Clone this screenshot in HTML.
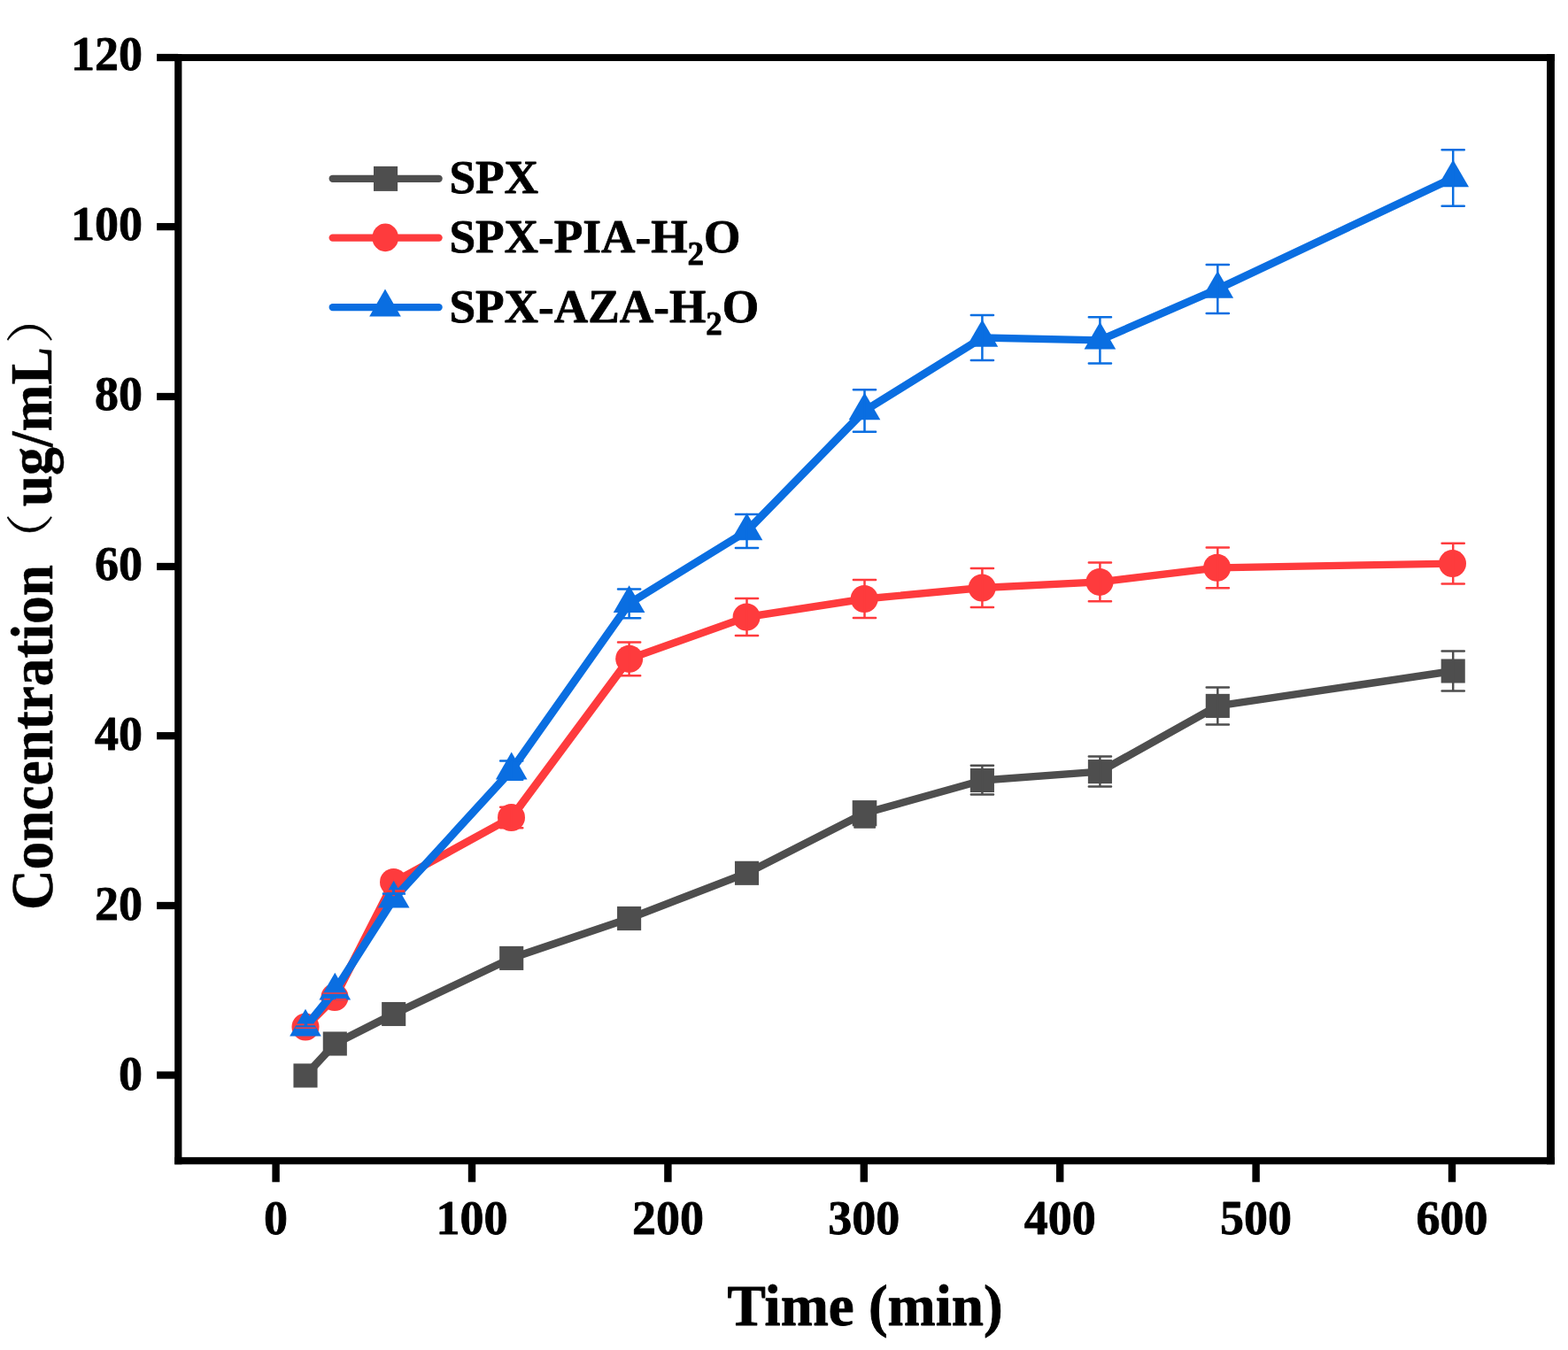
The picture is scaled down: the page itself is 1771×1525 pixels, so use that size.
<!DOCTYPE html>
<html lang="en"><head><meta charset="utf-8"><title>Concentration vs. Time</title>
<style>
html,body{margin:0;padding:0;background:#fff;}
body{width:1771px;height:1525px;}
svg{display:block;}
text{font-family:"Liberation Serif","Noto Serif CJK SC",serif;font-weight:bold;fill:#000;stroke:#000;stroke-width:0.8px;stroke-linejoin:round;}
.tk{font-size:54px;}
.ti{font-size:65px;stroke-width:0.9px;}
.yt{stroke-width:0.5px;}
.lg{font-size:53.25px;}
.sub{font-size:37px;}
.cjk{font-family:"Liberation Serif","Noto Serif CJK SC",serif;font-weight:normal;stroke-width:0.3px;}
</style></head><body>
<svg width="1771" height="1525" viewBox="0 0 1771 1525">
<rect width="1771" height="1525" fill="#fff"/>
<g id="series">
<g stroke="#4e4e4e" stroke-linecap="round" fill="none"><line x1="345" y1="1215" x2="378.3" y2="1179" stroke-width="8.96"/><line x1="378.3" y1="1179" x2="444.7" y2="1145.5" stroke-width="8.71"/><line x1="444.7" y1="1145.5" x2="577.7" y2="1082.4" stroke-width="8.69"/><line x1="577.7" y1="1082.4" x2="710.6" y2="1037.5" stroke-width="8.59"/><line x1="710.6" y1="1037.5" x2="843.5" y2="986.3" stroke-width="8.62"/><line x1="843.5" y1="986.3" x2="976.5" y2="918.7" stroke-width="8.71"/><line x1="976.5" y1="918.7" x2="1109.4" y2="881.5" stroke-width="8.54"/><line x1="1109.4" y1="881.5" x2="1242.4" y2="871.6" stroke-width="8.37"/><line x1="1242.4" y1="871.6" x2="1375.3" y2="797.4" stroke-width="8.74"/><line x1="1375.3" y1="797.4" x2="1641.2" y2="758" stroke-width="8.43"/></g>
<rect x="331.45" y="1201.45" width="27.1" height="27.1" fill="#4e4e4e"/><rect x="364.75" y="1165.45" width="27.1" height="27.1" fill="#4e4e4e"/><rect x="431.15" y="1131.95" width="27.1" height="27.1" fill="#4e4e4e"/><rect x="564.15" y="1068.85" width="27.1" height="27.1" fill="#4e4e4e"/><rect x="697.05" y="1023.95" width="27.1" height="27.1" fill="#4e4e4e"/><rect x="829.95" y="972.75" width="27.1" height="27.1" fill="#4e4e4e"/><rect x="1095.85" y="867.95" width="27.1" height="27.1" fill="#4e4e4e"/><rect x="1228.85" y="858.05" width="27.1" height="27.1" fill="#4e4e4e"/><rect x="1361.75" y="783.85" width="27.1" height="27.1" fill="#4e4e4e"/><rect x="1627.65" y="744.45" width="27.1" height="27.1" fill="#4e4e4e"/>
<rect x="962.7" y="904.1" width="27.6" height="29.2" fill="#4e4e4e"/><rect x="964.2" y="933" width="24.9" height="2.8" rx="0.8" fill="#4e4e4e"/>
<g stroke="#fe3b3d" stroke-linecap="round" fill="none"><line x1="345" y1="1160" x2="378.3" y2="1126.5" stroke-width="8.94"/><line x1="378.3" y1="1126.5" x2="444.7" y2="996.5" stroke-width="9.1"/><line x1="444.7" y1="996.5" x2="577.7" y2="923.5" stroke-width="8.73"/><line x1="577.7" y1="923.5" x2="710.6" y2="744.3" stroke-width="9.02"/><line x1="710.6" y1="744.3" x2="843.5" y2="697" stroke-width="8.6"/><line x1="843.5" y1="697" x2="976.5" y2="676.5" stroke-width="8.44"/><line x1="976.5" y1="676.5" x2="1109.4" y2="664" stroke-width="8.38"/><line x1="1109.4" y1="664" x2="1242.4" y2="657.4" stroke-width="8.34"/><line x1="1242.4" y1="657.4" x2="1375.3" y2="641.3" stroke-width="8.41"/><line x1="1375.3" y1="641.3" x2="1641.2" y2="636.6" stroke-width="8.32"/></g>
<circle cx="345" cy="1160" r="15.5" fill="#fe3b3d"/><circle cx="378" cy="1126.5" r="15.5" fill="#fe3b3d"/><circle cx="444.5" cy="996.5" r="15.5" fill="#fe3b3d"/><circle cx="577.5" cy="923.5" r="15.5" fill="#fe3b3d"/><circle cx="710.7" cy="744.3" r="15.5" fill="#fe3b3d"/><circle cx="843.1" cy="697" r="15.5" fill="#fe3b3d"/><circle cx="976.2" cy="676.5" r="15.5" fill="#fe3b3d"/><circle cx="1109.2" cy="664" r="15.5" fill="#fe3b3d"/><circle cx="1242" cy="657.4" r="15.5" fill="#fe3b3d"/><circle cx="1374.6" cy="641.3" r="15.5" fill="#fe3b3d"/><circle cx="1640.5" cy="636.6" r="15.5" fill="#fe3b3d"/>
<g stroke="#0a6ee1" stroke-linecap="round" fill="none"><line x1="345" y1="1160.3" x2="378.3" y2="1119.3" stroke-width="9"/><line x1="378.3" y1="1119.3" x2="444.7" y2="1015.3" stroke-width="9.06"/><line x1="444.7" y1="1015.3" x2="577.7" y2="870.1" stroke-width="8.96"/><line x1="577.7" y1="870.1" x2="710.6" y2="681.8" stroke-width="9.04"/><line x1="710.6" y1="681.8" x2="843.5" y2="600" stroke-width="8.77"/><line x1="843.5" y1="600" x2="976.5" y2="464" stroke-width="8.94"/><line x1="976.5" y1="464" x2="1109.4" y2="381.5" stroke-width="8.77"/><line x1="1109.4" y1="381.5" x2="1242.4" y2="384.3" stroke-width="8.32"/><line x1="1242.4" y1="384.3" x2="1375.3" y2="326.5" stroke-width="8.66"/><line x1="1375.3" y1="326.5" x2="1641.2" y2="201" stroke-width="8.68"/></g>
<polygon points="345,1139.7 362.84,1170.6 327.16,1170.6" fill="#0a6ee1"/><polygon points="378.3,1098.7 396.14,1129.6 360.46,1129.6" fill="#0a6ee1"/><polygon points="444.7,994.7 462.54,1025.6 426.86,1025.6" fill="#0a6ee1"/><polygon points="577.7,849.5 595.54,880.4 559.86,880.4" fill="#0a6ee1"/><polygon points="710.6,661.2 728.44,692.1 692.76,692.1" fill="#0a6ee1"/><polygon points="843.5,579.4 861.34,610.3 825.66,610.3" fill="#0a6ee1"/><polygon points="976.5,443.4 994.34,474.3 958.66,474.3" fill="#0a6ee1"/><polygon points="1109.4,360.9 1127.24,391.8 1091.56,391.8" fill="#0a6ee1"/><polygon points="1242.4,363.7 1260.24,394.6 1224.56,394.6" fill="#0a6ee1"/><polygon points="1375.3,305.9 1393.14,336.8 1357.46,336.8" fill="#0a6ee1"/><polygon points="1641.2,180.4 1659.04,211.3 1623.36,211.3" fill="#0a6ee1"/>
<path d="M1109.4 864.7V897.5M1096.8 864.7H1122M1096.8 897.5H1122M1242.4 854.5V888.4M1229.8 854.5H1255M1229.8 888.4H1255M1375.3 776.6V818.6M1362.7 776.6H1387.9M1362.7 818.6H1387.9M1641.2 735.5V780.4M1628.6 735.5H1653.8M1628.6 780.4H1653.8" fill="none" stroke="#4e4e4e" stroke-width="2.5" stroke-linecap="round"/>
<path d="M577.7 911.65V935.35M565.1 911.65H590.3M565.1 935.35H590.3M710.6 725.4V763.2M698 725.4H723.2M698 763.2H723.2M843.5 676V718M830.9 676H856.1M830.9 718H856.1M976.5 654.9V698.1M963.9 654.9H989.1M963.9 698.1H989.1M1109.4 642.1V685.9M1096.8 642.1H1122M1096.8 685.9H1122M1242.4 635.5V679.3M1229.8 635.5H1255M1229.8 679.3H1255M1375.3 618.4V664.2M1362.7 618.4H1387.9M1362.7 664.2H1387.9M1641.2 613.65V659.55M1628.6 613.65H1653.8M1628.6 659.55H1653.8" fill="none" stroke="#fe3b3d" stroke-width="2.5" stroke-linecap="round"/>
<path d="M333.6 1157.4H343.6M347.2 1157.4H356.7M333.6 1161.3H356.7M365.1 1122H391.3M365.6 1128.8H373M379.2 1128.8H391.3" fill="none" stroke="#fe3b3d" stroke-width="1.6"/>
<path d="M432.9 1006.7H442.8M446 1006.7H457.3" fill="none" stroke="#fe3b3d" stroke-width="2.8"/>
<rect x="376.6" y="1129.2" width="2.6" height="1.6" fill="#fe3b3d"/><rect x="443.3" y="1010.9" width="2.6" height="1.3" fill="#fe3b3d"/>
<path d="M577.7 859.4V880.8M565.1 859.4H590.3M565.1 880.8H590.3M710.6 665.45V698.15M698 665.45H723.2M698 698.15H723.2M843.5 581.05V618.95M830.9 581.05H856.1M830.9 618.95H856.1M976.5 440.3V487.7M963.9 440.3H989.1M963.9 487.7H989.1M1109.4 356.1V406.9M1096.8 356.1H1122M1096.8 406.9H1122M1242.4 358.2V410.4M1229.8 358.2H1255M1229.8 410.4H1255M1375.3 299.1V353.9M1362.7 299.1H1387.9M1362.7 353.9H1387.9M1641.2 169.25V232.75M1628.6 169.25H1653.8M1628.6 232.75H1653.8" fill="none" stroke="#0a6ee1" stroke-width="2.5" stroke-linecap="round"/>
<path d="M431.8 1009.6H458" fill="none" stroke="#0a6ee1" stroke-width="2.4"/>
</g>
<g id="axes" fill="#000">
<rect x="197.2" y="61.1" width="1558.7" height="7.9"/>
<rect x="197.2" y="1307.2" width="1558.7" height="8.1"/>
<rect x="197.2" y="61.1" width="8.2" height="1254.2"/>
<rect x="1747" y="61.1" width="8.9" height="1254.2"/>
<rect x="307.4" y="1311" width="8.4" height="24.3"/>
<rect x="528.8" y="1311" width="8.4" height="24.3"/>
<rect x="750.2" y="1311" width="8.4" height="24.3"/>
<rect x="971.6" y="1311" width="8.4" height="24.3"/>
<rect x="1193" y="1311" width="8.4" height="24.3"/>
<rect x="1414.4" y="1311" width="8.4" height="24.3"/>
<rect x="1635.8" y="1311" width="8.4" height="24.3"/>
<rect x="177.1" y="1210.35" width="24" height="8.3"/>
<rect x="177.1" y="1018.85" width="24" height="8.3"/>
<rect x="177.1" y="827.05" width="24" height="8.3"/>
<rect x="177.1" y="635.85" width="24" height="8.3"/>
<rect x="177.1" y="443.85" width="24" height="8.3"/>
<rect x="177.1" y="251.95" width="24" height="8.3"/>
<rect x="177.1" y="60.85" width="24" height="8.3"/>
</g>
<g id="ticklabels" class="tk">
<text x="311.6" y="1394.0" text-anchor="middle">0</text>
<text x="533" y="1394.0" text-anchor="middle">100</text>
<text x="754.4" y="1394.0" text-anchor="middle">200</text>
<text x="975.8" y="1394.0" text-anchor="middle">300</text>
<text x="1197.2" y="1394.0" text-anchor="middle">400</text>
<text x="1418.6" y="1394.0" text-anchor="middle">500</text>
<text x="1640" y="1394.0" text-anchor="middle">600</text>
<text x="160.9" y="1230.5" text-anchor="end">0</text>
<text x="160.9" y="1038.6" text-anchor="end">20</text>
<text x="160.9" y="846.7" text-anchor="end">40</text>
<text x="160.9" y="654.8" text-anchor="end">60</text>
<text x="160.9" y="462.9" text-anchor="end">80</text>
<text x="160.9" y="271" text-anchor="end">100</text>
<text x="160.9" y="79.1" text-anchor="end">120</text>
</g>
<text class="ti" x="977.0" y="1496.6" text-anchor="middle">Time (min)</text>
<text id="ytitle" class="yt" transform="translate(59 1028.1) rotate(-90)"><tspan x="0" font-size="67" textLength="390" lengthAdjust="spacingAndGlyphs">Concentration</tspan><tspan class="cjk" x="387.7" dy="-4.8" font-size="54" textLength="60.75" lengthAdjust="spacingAndGlyphs">（</tspan><tspan x="455.9" dy="3.6" font-size="67.5" textLength="180" lengthAdjust="spacingAndGlyphs">ug/mL</tspan><tspan class="cjk" x="639.8" dy="-3.6" font-size="54" textLength="60.75" lengthAdjust="spacingAndGlyphs">）</tspan></text>
<g id="legend">
<line x1="375.7" y1="201.8" x2="495.6" y2="201.8" stroke="#4e4e4e" stroke-width="8.3" stroke-linecap="round"/>
<rect x="422" y="187.9" width="27.1" height="28" fill="#4e4e4e"/>
<text class="lg" x="507.4" y="217.9">SPX</text>
<line x1="375.7" y1="268.6" x2="495.6" y2="268.6" stroke="#fe3b3d" stroke-width="8.3" stroke-linecap="round"/>
<ellipse cx="435.2" cy="268.4" rx="14.8" ry="15.8" fill="#fe3b3d"/>
<text class="lg" x="507.4" y="285.3">SPX-PIA-H<tspan class="sub" dy="13.7">2</tspan><tspan dy="-13.7">O</tspan></text>
<line x1="375.7" y1="347.1" x2="495.6" y2="347.1" stroke="#0a6ee1" stroke-width="8.3" stroke-linecap="round"/>
<polygon points="435,326.5 452.84,357.4 417.16,357.4" fill="#0a6ee1"/>
<text class="lg" x="507.4" y="364.3">SPX-AZA-H<tspan class="sub" dy="13.7">2</tspan><tspan dy="-13.7">O</tspan></text>
</g>
</svg></body></html>
